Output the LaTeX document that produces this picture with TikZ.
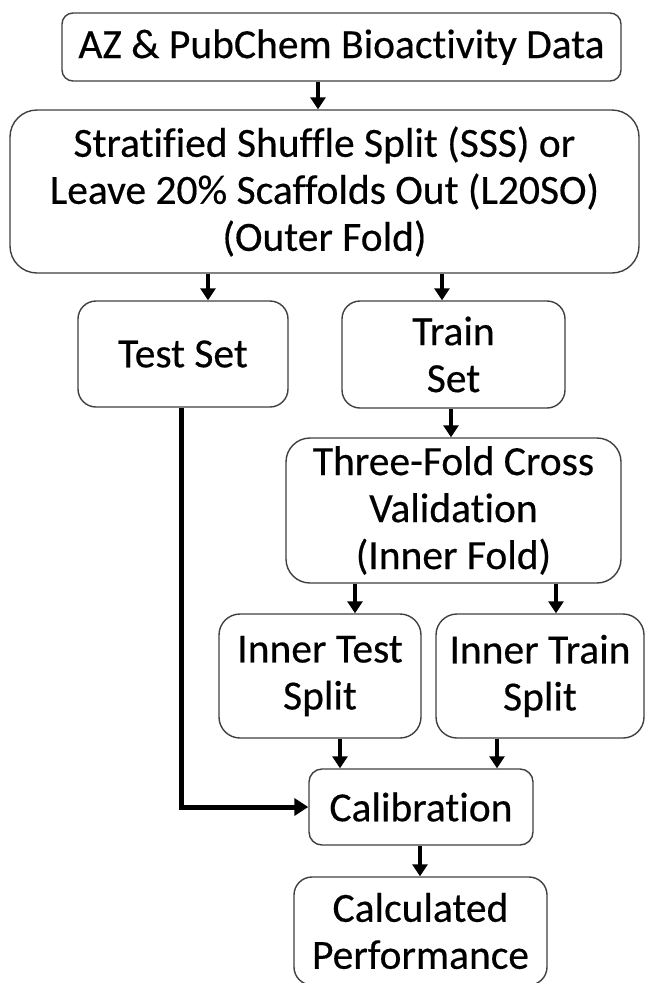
\documentclass[tikz,border=0pt]{standalone}
\usepackage{fontspec}
\setmainfont[Ligatures=NoCommon,FakeBold=0.4]{Carlito}
\usetikzlibrary{arrows.meta}
\begin{document}
\begin{tikzpicture}[x=1pt,y=1pt,
  box/.style={draw=black!75, line width=1.4pt, fill=white, align=center, inner sep=0pt,
    font=\fontsize{41.5}{47}\selectfont},
  arr/.style={line width=4pt, -{Triangle[width=15pt,length=12pt]}},
  thickline/.style={line width=5pt, -{Triangle[width=17pt,length=14pt]}}]
\useasboundingbox (0,0) rectangle (645,-983);
\clip (0,0) rectangle (645,-983);
\node[box, rounded corners=11pt, minimum width=559pt, minimum height=68pt] (data) at (341.5,-47) {AZ \& PubChem Bioactivity Data};
\node[box, rounded corners=27pt, minimum width=629pt, minimum height=163pt] (sss) at (324.5,-191.5) {Stratified Shuffle Split (SSS) or\\Leave 20\% Scaffolds Out (L20SO)\\(Outer Fold)};
\node[box, rounded corners=18pt, minimum width=210pt, minimum height=106pt] (test) at (183,-354) {Test Set};
\node[box, rounded corners=18pt, minimum width=223pt, minimum height=107pt] (train) at (453.5,-354.5) {Train\\Set};
\node[box, rounded corners=24pt, minimum width=335pt, minimum height=145pt] (cv) at (453.5,-510.5) {Three-Fold Cross\\Validation\\(Inner Fold)};
\node[box, rounded corners=21pt, minimum width=202pt, minimum height=124pt] (itest) at (320,-676) {Inner Test\\Split};
\node[box, rounded corners=21pt, minimum width=208pt, minimum height=124pt] (itrain) at (540,-676) {Inner Train\\Split};
\node[box, rounded corners=13pt, minimum width=224pt, minimum height=76pt] (calib) at (421,-807) {Calibration};
\node[box, rounded corners=18pt, minimum width=253pt, minimum height=108pt] (perf) at (420.5,-931) {Calculated\\Performance};
% arrows
\draw[arr] ([xshift=-23.5pt]data.south) -- ([xshift=-23.5pt]data.south |- sss.north);
\draw[arr] ([xshift=25pt]test.north |- sss.south) -- ([xshift=25pt]test.north);
\draw[arr] ([xshift=-11.5pt]train.north |- sss.south) -- ([xshift=-11.5pt]train.north);
\draw[arr] ([xshift=-2.5pt]train.south) -- ([xshift=-2.5pt]train.south |- cv.north);
\draw[arr] ([xshift=35pt]itest.north |- cv.south) -- ([xshift=35pt]itest.north);
\draw[arr] ([xshift=16pt]itrain.north |- cv.south) -- ([xshift=16pt]itrain.north);
\draw[arr] ([xshift=20pt]itest.south) -- ([xshift=20pt]itest.south |- calib.north);
\draw[arr] ([xshift=-43pt]itrain.south) -- ([xshift=-43pt]itrain.south |- calib.north);
\draw[arr] ([xshift=-1pt]calib.south) -- ([xshift=-1pt]calib.south |- perf.north);
\draw[thickline, line join=miter] ([xshift=-2pt]test.south) |- (calib.west);
\end{tikzpicture}
\end{document}
